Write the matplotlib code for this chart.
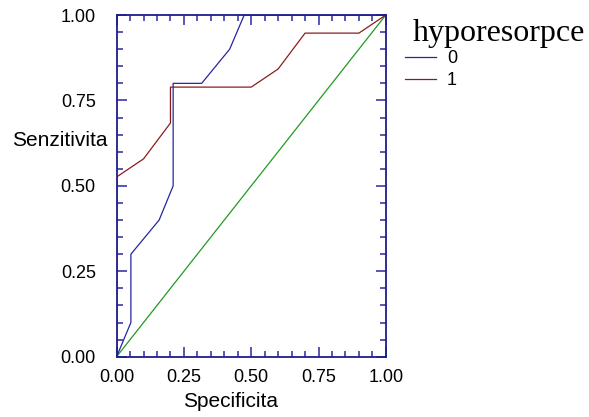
import matplotlib
matplotlib.use("Agg")
import matplotlib.pyplot as plt
from matplotlib.ticker import MultipleLocator

# ROC curves
spec_0 = [0.0, 0.053, 0.053, 0.158, 0.21, 0.21, 0.316, 0.42, 0.474, 1.0]
sens_0 = [0.0, 0.1, 0.3, 0.4, 0.5, 0.8, 0.8, 0.9, 1.0, 1.0]
spec_1 = [0.0, 0.0, 0.1, 0.2, 0.2, 0.5, 0.6, 0.7, 0.9, 1.0]
sens_1 = [0.0, 0.526, 0.579, 0.684, 0.789, 0.789, 0.842, 0.947, 0.947, 1.0]
ref_x = [0.0, 1.0]
ref_y = [0.0, 1.0]
ticks = [0.0, 0.25, 0.5, 0.75, 1.0]
tick_labels = ["0.00", "0.25", "0.50", "0.75", "1.00"]

plt.rcParams["font.family"] = ["Liberation Sans", "DejaVu Sans"]

fig = plt.figure(figsize=(5.89, 4.17), dpi=100)
ax = fig.add_axes([0.198, 0.1446, 0.457, 0.8194])

navy = "#1c1c8c"
ax.plot(ref_x, ref_y, color="#229a22", lw=0.9)
line0, = ax.plot(spec_0, sens_0, color="#2626a0", lw=0.9, label="0")
line1, = ax.plot(spec_1, sens_1, color="#8c1c1c", lw=0.9, label="1")

ax.set_xlim(0, 1)
ax.set_ylim(0, 1)
ax.set_xticks(ticks)
ax.set_xticklabels(tick_labels)
ax.set_yticks(ticks)
ax.set_yticklabels(tick_labels)
ax.xaxis.set_minor_locator(MultipleLocator(0.05))
ax.yaxis.set_minor_locator(MultipleLocator(0.05))
ax.tick_params(which="both", direction="in", top=True, right=True,
               color="#4a4ab0", width=1.3, labelsize=13)
ax.tick_params(which="major", length=7)
ax.tick_params(which="minor", length=4)
ax.tick_params(axis="x", which="major", pad=9)
ax.tick_params(axis="y", which="major", pad=15)
for sp in ax.spines.values():
    sp.set_color(navy)
    sp.set_linewidth(1.3)

ax.set_xlabel("Specificita", fontsize=15)
ax.xaxis.set_label_coords(0.424, -0.132)
ax.xaxis.label.set_va("center")
ax.set_ylabel("Senzitivita", fontsize=15, rotation=0, ha="right", va="center")
ax.yaxis.set_label_coords(-0.032, 0.634)

# legend title drawn separately (serif, larger than the entries)
fig.text(413 / 589, 1 - 41 / 417, "hyporesorpce", family="Liberation Serif",
         fontsize=23, ha="left", va="baseline")
ax.legend(handles=[line0, line1], loc="upper left",
          bbox_to_anchor=(398 / 589, 1 - 43 / 417), bbox_transform=fig.transFigure,
          frameon=False, fontsize=13, handlelength=1.7, handletextpad=0.6,
          labelspacing=0.28, borderaxespad=0)

fig.savefig("out.png", dpi=100)
